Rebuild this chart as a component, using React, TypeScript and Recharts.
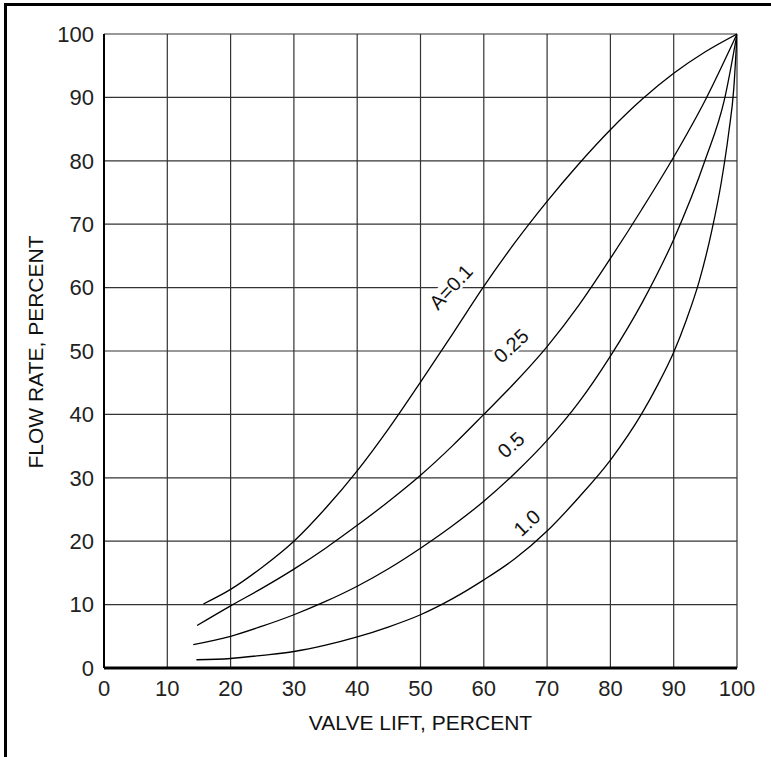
import React from 'react';
import { LineChart, Line, XAxis, YAxis, CartesianGrid, ReferenceDot } from 'recharts';

// Valve lift (percent) and flow rate (percent) for each curve
const lift01 = [15.7, 20, 25, 30, 35, 40, 45, 50, 55, 60, 65, 70, 75, 80, 85, 90, 95, 100];
const flow01 = [10.1, 12.4, 15.9, 20, 25.2, 31.1, 37.8, 45.1, 52.6, 60.2, 67.2, 73.6, 79.5, 84.9, 89.7, 93.8, 97.2, 100];

const lift025 = [14.7, 20, 25, 30, 35, 40, 45, 50, 55, 60, 65, 70, 75, 80, 85, 90, 95, 100];
const flow025 = [6.7, 9.8, 12.6, 15.6, 18.9, 22.5, 26.3, 30.4, 35.0, 40, 45.1, 50.7, 57.2, 64.6, 72.4, 80.6, 89.6, 100];

const lift05 = [14.1, 20, 25, 30, 35, 40, 45, 50, 55, 60, 65, 70, 75, 80, 85, 90, 95, 98, 100];
const flow05 = [3.7, 5.0, 6.6, 8.4, 10.5, 12.9, 15.7, 18.9, 22.4, 26.3, 30.8, 35.9, 41.9, 49.2, 57.6, 67.6, 80.2, 89.6, 100];

const lift10 = [14.6, 20, 25, 30, 35, 40, 45, 50, 55, 60, 65, 70, 75, 80, 85, 87.5, 90, 92, 94, 96, 97.5, 98.7, 99.5, 100];
const flow10 = [1.3, 1.5, 2.0, 2.6, 3.6, 4.9, 6.5, 8.4, 10.9, 13.9, 17.3, 21.6, 26.9, 32.8, 40.2, 44.7, 49.8, 54.9, 60.9, 68.9, 76.5, 84.5, 91.5, 100];

const ticks = [0, 10, 20, 30, 40, 50, 60, 70, 80, 90, 100];

// Curve labels (data coordinates)
const labelText = ['A=0.1', '0.25', '0.5', '1.0'];
const labelX = [54.8, 64.3, 64.3, 66.8];
const labelY = [60.1, 50.8, 35.2, 22.9];
const labelAngle = [-47, -43, -42, -43];
const labelBoxW = [50, 40, 0, 0];

const toPts = (xs: number[], ys: number[]) => xs.map((x, i) => ({ x, y: ys[i] }));
const series = [toPts(lift01, flow01), toPts(lift025, flow025), toPts(lift05, flow05), toPts(lift10, flow10)];

const FONT = '"Liberation Sans", Arial, Helvetica, sans-serif';

const CurveLabel = (p: any) => {
  const { cx, cy, idx } = p;
  return (
    <g transform={`translate(${cx},${cy}) rotate(${labelAngle[idx]})`}>
      {labelBoxW[idx] > 0 && (
        <rect x={-labelBoxW[idx] / 2} y={-9} width={labelBoxW[idx]} height={18} fill="#fff" />
      )}
      <text x={0} y={0} textAnchor="middle" dominantBaseline="central" fontSize={20} fontFamily={FONT} fill="#111">
        {labelText[idx]}
      </text>
    </g>
  );
};

export default function App() {
  return (
    <div style={{ position: 'absolute', left: 0, top: 0, width: 771, height: 757, background: '#fff', fontFamily: FONT }}>
      <div style={{ position: 'absolute', left: 4, top: 3, width: 767, height: 754, borderLeft: '3px solid #000', borderTop: '3px solid #000', boxSizing: 'border-box' }} />
      <div style={{ position: 'absolute', left: 0, top: 0 }}>
        <LineChart width={771} height={757} data={series[0]} margin={{ top: 34, right: 34, bottom: 59, left: 44 }}>
          <CartesianGrid stroke="#333" strokeWidth={1.2} />
          <XAxis
            dataKey="x"
            type="number"
            domain={[0, 100]}
            ticks={ticks}
            interval={0}
            height={30}
            tickLine={false}
            tickMargin={6}
            axisLine={{ stroke: '#000', strokeWidth: 3 }}
            tick={{ fontSize: 22, fill: '#222', fontFamily: FONT }}
            label={{ value: 'VALVE LIFT, PERCENT', position: 'bottom', offset: 17, fontSize: 21, fill: '#111', fontFamily: FONT }}
            allowDataOverflow
          />
          <YAxis
            type="number"
            domain={[0, 100]}
            ticks={ticks}
            interval={0}
            width={60}
            tickLine={false}
            tickMargin={4}
            axisLine={{ stroke: '#000', strokeWidth: 2 }}
            tick={{ fontSize: 22, fill: '#222', fontFamily: FONT }}
            label={{
              content: (lp: any) => {
                const vb = lp.viewBox || {};
                const cx = (vb.x ?? 44) - 8.5;
                const cy = (vb.y ?? 34) + (vb.height ?? 634) / 2 + 1;
                return (
                  <text x={cx} y={cy} transform={`rotate(-90, ${cx}, ${cy})`} textAnchor="middle" dominantBaseline="central" fontSize={21} fill="#111" fontFamily={FONT}>
                    FLOW RATE, PERCENT
                  </text>
                );
              },
            }}
          />
          {series.map((d, i) => (
            <Line
              key={i}
              data={d}
              dataKey="y"
              type="monotone"
              stroke="#000"
              strokeWidth={1.3}
              dot={false}
              activeDot={false}
              isAnimationActive={false}
            />
          ))}
          {labelText.map((t, i) => (
            <ReferenceDot
              key={t}
              x={labelX[i]}
              y={labelY[i]}
              r={1}
              shape={(p: any) => <CurveLabel cx={p.cx} cy={p.cy} idx={i} />}
            />
          ))}
        </LineChart>
      </div>
    </div>
  );
}
